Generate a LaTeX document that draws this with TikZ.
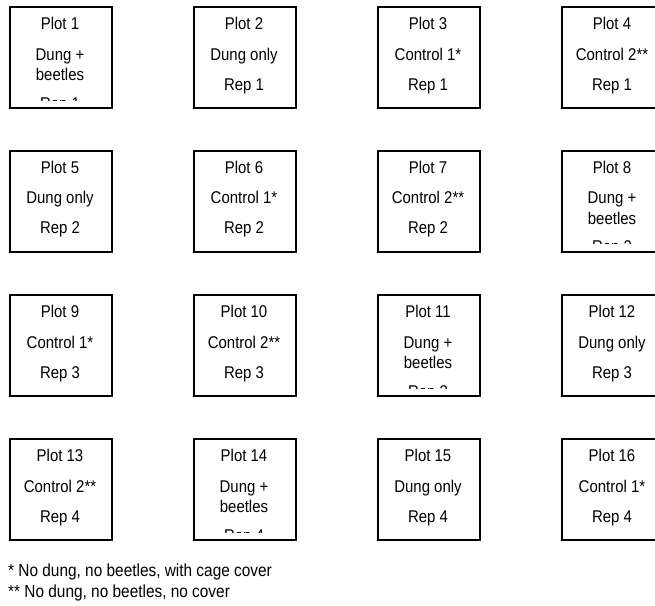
\documentclass[tikz,border=0pt]{standalone}
\usepackage{fontspec}
\setmainfont{Liberation Sans}[FakeStretch=0.88]

% One plot cell: a framed square with three centred text lines.
% #1 name, #2 x, #3 y (top-left corner), #4 plot label, #5 treatment, #6 replicate
\newcommand\plotcell[6]{%
  \node[plotbox] (#1) at (#2,#3) {};
  \begin{scope}
    \clip (#2,#3) rectangle ++(102,94);
    \node[lbl] (#1-plot) at (#2+51,#3+23.5) {#4};
    \node[lbl] (#1-trt)  at (#2+51,#3+54)   {#5};
    \node[lbl] (#1-rep)  at (#2+51,#3+84)   {#6};
  \end{scope}
}
% Same cell with a two-line treatment; the replicate line runs past the clip.
\newcommand\plotcellwide[7]{%
  \node[plotbox] (#1) at (#2,#3) {};
  \begin{scope}
    \clip (#2,#3) rectangle ++(102,94);
    \node[lbl] (#1-plot) at (#2+51,#3+23.5) {#4};
    \node[lbl] (#1-trt)  at (#2+51,#3+54)   {#5};
    \node[lbl] (#1-trtb) at (#2+51,#3+74.7) {#6};
    \node[lbl] (#1-rep)  at (#2+51,#3+103)  {#7};
  \end{scope}
}

\begin{document}
\begin{tikzpicture}[x=1pt,y=-1pt,
  plotbox/.style={draw, line width=2pt, minimum width=102pt, minimum height=101pt,
                  inner sep=0pt, anchor=north west},
  lbl/.style={anchor=base, inner sep=0pt, font=\fontsize{17}{20}\selectfont},
  note/.style={anchor=base west, inner sep=0pt, font=\fontsize{17.5}{20}\selectfont}]
\useasboundingbox (0,0) rectangle (655,605);
\clip (0,0) rectangle (655,605);

% Row 1
\plotcellwide{p1}{9}{6}{Plot 1}{Dung +}{beetles}{Rep 1}
\plotcell{p2}{193}{6}{Plot 2}{Dung only}{Rep 1}
\plotcell{p3}{377}{6}{Plot 3}{Control 1*}{Rep 1}
\plotcell{p4}{561}{6}{Plot 4}{Control 2**}{Rep 1}

% Row 2
\plotcell{p5}{9}{149.5}{Plot 5}{Dung only}{Rep 2}
\plotcell{p6}{193}{149.5}{Plot 6}{Control 1*}{Rep 2}
\plotcell{p7}{377}{149.5}{Plot 7}{Control 2**}{Rep 2}
\plotcellwide{p8}{561}{149.5}{Plot 8}{Dung +}{beetles}{Rep 2}

% Row 3
\plotcell{p9}{9}{294}{Plot 9}{Control 1*}{Rep 3}
\plotcell{p10}{193}{294}{Plot 10}{Control 2**}{Rep 3}
\plotcellwide{p11}{377}{294}{Plot 11}{Dung +}{beetles}{Rep 3}
\plotcell{p12}{561}{294}{Plot 12}{Dung only}{Rep 3}

% Row 4
\plotcell{p13}{9}{438}{Plot 13}{Control 2**}{Rep 4}
\plotcellwide{p14}{193}{438}{Plot 14}{Dung +}{beetles}{Rep 4}
\plotcell{p15}{377}{438}{Plot 15}{Dung only}{Rep 4}
\plotcell{p16}{561}{438}{Plot 16}{Control 1*}{Rep 4}

% Key to the controls
\node[note] (key1) at (8,576) {* No dung, no beetles, with cage cover};
\node[note] (key2) at (8,597) {** No dung, no beetles, no cover};
\end{tikzpicture}
\end{document}
